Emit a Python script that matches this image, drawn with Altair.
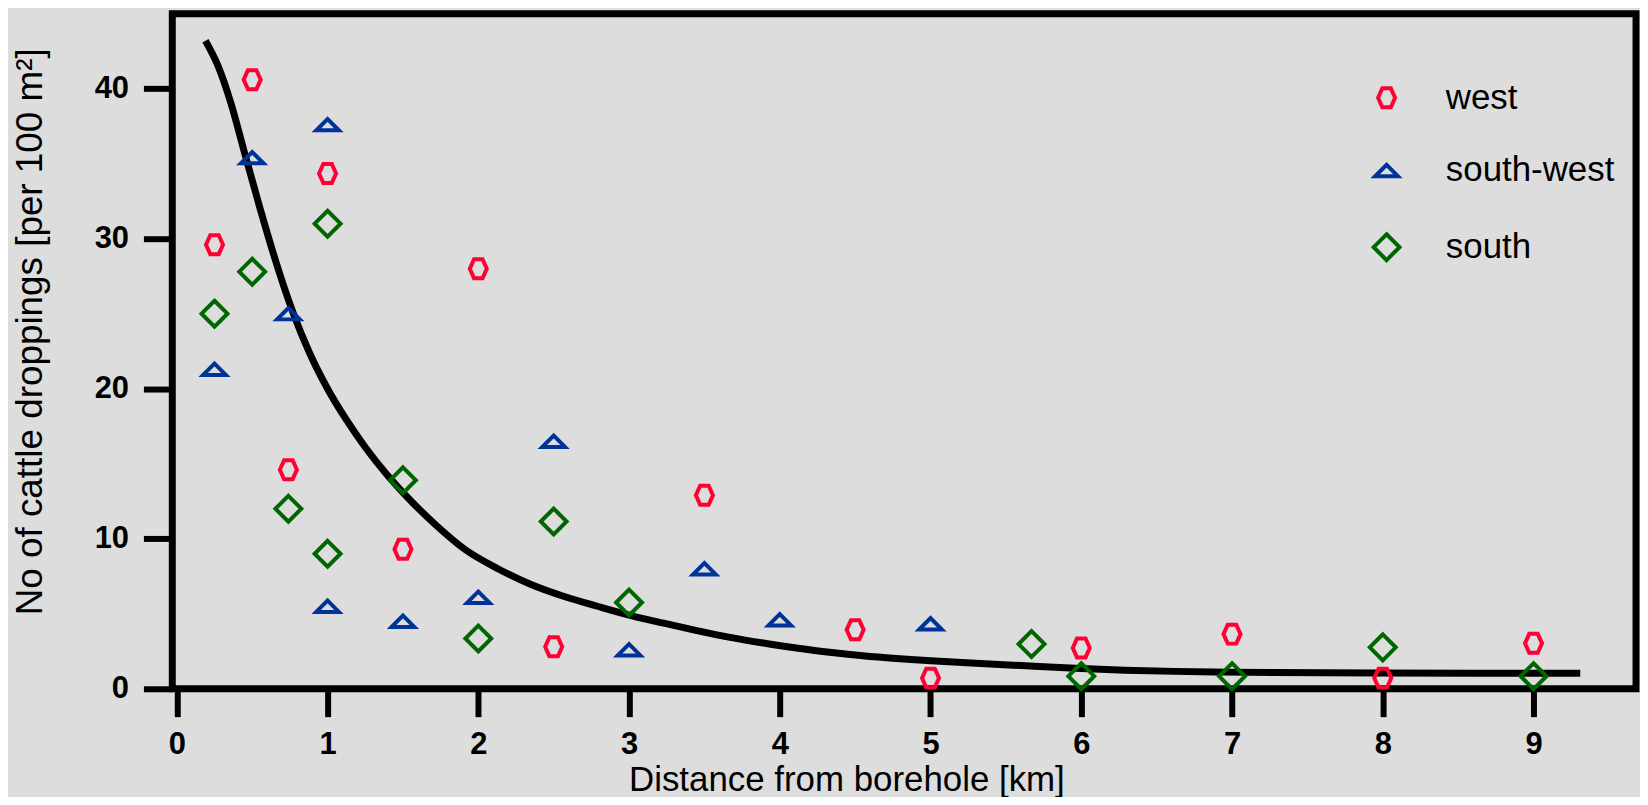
import altair as alt
import pandas as pd

series = ["west", "south-west", "south"]
colors = ["#ff0033", "#003399", "#006600"]

west_x = [0.25, 0.5, 0.74, 1, 1.5, 2, 2.5, 3.5, 4.5, 5, 6, 7, 8, 9]
west_y = [29.6, 40.6, 14.6, 34.35, 9.3, 28.0, 2.8, 12.9, 3.93, 0.71, 2.72, 3.64, 0.71, 3.03]

sw_x = [0.25, 0.5, 0.74, 1, 1, 1.5, 2, 2.5, 3, 3.5, 4, 5]
sw_y = [21.3, 35.4, 25.0, 37.6, 5.5, 4.5, 6.1, 16.5, 2.6, 8.0, 4.6, 4.33]

south_x = [0.25, 0.5, 0.74, 1, 1, 1.5, 2, 2.5, 3, 5.67, 6, 7, 8, 9]
south_y = [25.0, 27.8, 12.0, 31.0, 9.0, 13.9, 3.35, 11.15, 5.75, 2.98, 0.84, 0.84, 2.76, 0.84]

curve_x = [0.19, 0.27, 0.36, 0.45, 0.55, 0.65, 0.77, 0.88, 1.0, 1.12, 1.25, 1.4, 1.56, 1.72,
           1.91, 2.13, 2.35, 2.57, 2.79, 3.02, 3.23, 3.45, 3.67, 3.89, 4.11, 4.33, 4.55, 4.77,
           5.0, 5.3, 5.63, 5.96, 6.29, 6.62, 6.95, 7.28, 7.94, 8.6, 9.31]
curve_y = [43.2, 41.6, 39.0, 35.7, 32.1, 28.7, 25.1, 22.4, 20.0, 18.0, 16.1, 14.2, 12.45, 10.9,
           9.3, 8.0, 6.95, 6.15, 5.5, 4.86, 4.37, 3.88, 3.43, 3.05, 2.72, 2.43, 2.2, 2.02,
           1.87, 1.7, 1.53, 1.37, 1.24, 1.16, 1.11, 1.08, 1.05, 1.04, 1.04]

x_ticks = [0, 1, 2, 3, 4, 5, 6, 7, 8, 9]
y_ticks = [0, 10, 20, 30, 40]

rows = []
for name, xs, ys in [("west", west_x, west_y), ("south-west", sw_x, sw_y), ("south", south_x, south_y)]:
    for a, b in zip(xs, ys):
        rows.append({"x": a, "y": b, "series": name})
pts = pd.DataFrame(rows)
curve = pd.DataFrame({"x": curve_x, "y": curve_y})

FONT = "Liberation Sans"
hexagon = "M-0.9,0L-0.45,-1L0.45,-1L0.9,0L0.45,1L-0.45,1Z"
triangle = "M-1,0.5L0,-0.5L1,0.5Z"
diamond = "M0,-1L1,0L0,1L-1,0Z"

xscale = alt.Scale(domain=[-0.03, 9.68], nice=False, zero=False)
yscale = alt.Scale(domain=[0, 45], nice=False)

xaxis = alt.Axis(values=x_ticks, format="d", title="Distance from borehole [km]",
                 domain=False, grid=False, tickSize=28, tickWidth=6, tickColor="black",
                 labelFont=FONT, labelFontSize=31, labelFontWeight="bold", labelColor="black",
                 labelPadding=13, labelFlush=False,
                 titleFont=FONT, titleFontSize=35, titleFontWeight="normal", titleColor="black",
                 titleX=677, titleY=102, titleAlign="center", titleBaseline="alphabetic")
yaxis = alt.Axis(values=y_ticks, format="d", title="No of cattle droppings [per 100 m²]",
                 domain=False, grid=False, tickSize=29, tickWidth=6, tickColor="black",
                 labelFont=FONT, labelFontSize=31, labelFontWeight="bold", labelColor="black",
                 labelPadding=15,
                 titleFont=FONT, titleFontSize=37, titleFontWeight="normal", titleColor="black",
                 titleAngle=270, titleX=-131, titleY=319, titleAlign="center",
                 titleBaseline="alphabetic")

legend = alt.Legend(title=None, orient="none", legendX=1202, legendY=67, direction="vertical",
                    labelFont=FONT, labelFontSize=35, labelColor="black", labelOffset=42,
                    labelLimit=500, rowPadding=37, symbolStrokeWidth=4, padding=0)

line = alt.Chart(curve).mark_line(color="black", strokeWidth=7, interpolate="monotone").encode(
    x=alt.X("x:Q", scale=xscale, axis=xaxis),
    y=alt.Y("y:Q", scale=yscale, axis=yaxis),
)

points = alt.Chart(pts).mark_point(filled=False, strokeWidth=4, opacity=1).encode(
    x=alt.X("x:Q", scale=xscale),
    y=alt.Y("y:Q", scale=yscale),
    color=alt.Color("series:N", scale=alt.Scale(domain=series, range=colors), legend=legend),
    shape=alt.Shape("series:N", scale=alt.Scale(domain=series, range=[hexagon, triangle, diamond]), legend=legend),
    size=alt.Size("series:N", scale=alt.Scale(domain=series, range=[361, 676, 484]), legend=legend),
)

chart = alt.layer(line, points).properties(
    width=1470, height=678,
    autosize=alt.AutoSizeParams(type="none"),
    padding={"left": 165, "top": 4, "right": 4, "bottom": 107},
    background="#dddddd",
).configure_view(stroke="black", strokeWidth=7)

chart.save("out.html", embed_options={"renderer": "svg", "actions": False})
